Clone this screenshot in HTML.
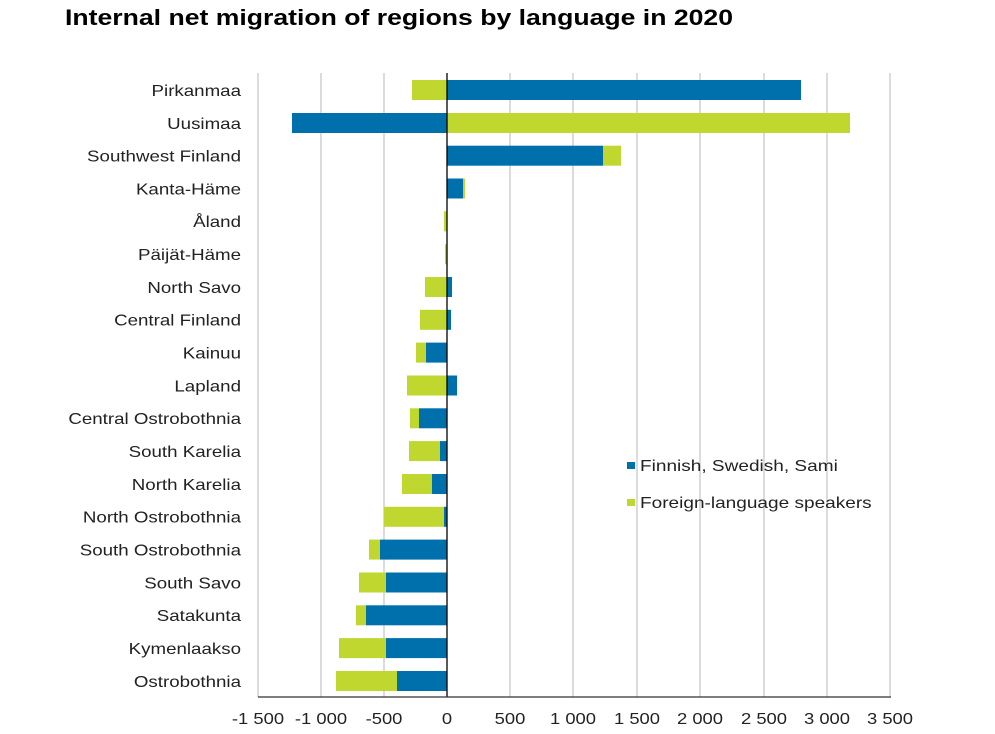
<!DOCTYPE html>
<html><head><meta charset="utf-8"><style>
html,body{margin:0;padding:0;background:#fff;}
svg{display:block;font-family:"Liberation Sans",Arial,sans-serif;}
</style></head><body>
<svg width="995" height="734" viewBox="0 0 995 734" xmlns="http://www.w3.org/2000/svg">
<rect width="995" height="734" fill="#fff"/>
<text x="65" y="25" font-size="22" font-weight="bold" fill="#000" textLength="668" lengthAdjust="spacingAndGlyphs">Internal net migration of regions by language in 2020</text>
<g stroke="#c8c8c8" stroke-width="1.3">
<line x1="258" y1="73" x2="258" y2="697"/><line x1="321" y1="73" x2="321" y2="697"/><line x1="384" y1="73" x2="384" y2="697"/>
<line x1="510" y1="73" x2="510" y2="697"/><line x1="573" y1="73" x2="573" y2="697"/><line x1="637" y1="73" x2="637" y2="697"/>
<line x1="700" y1="73" x2="700" y2="697"/><line x1="764" y1="73" x2="764" y2="697"/><line x1="827" y1="73" x2="827" y2="697"/><line x1="890" y1="73" x2="890" y2="697"/>
</g>
<g>
<rect x="447" y="80" width="354" height="20" fill="#0070ac"/><rect x="412" y="80" width="35" height="20" fill="#c0d72f"/>
<rect x="292" y="113" width="155" height="20" fill="#0070ac"/><rect x="447" y="113" width="403" height="20" fill="#c0d72f"/>
<rect x="447" y="145.7" width="156" height="20" fill="#0070ac"/><rect x="603" y="145.7" width="18" height="20" fill="#c0d72f"/>
<rect x="447" y="178.5" width="16" height="20" fill="#0070ac"/><rect x="463" y="178.5" width="2" height="20" fill="#c0d72f"/>
<rect x="444" y="211.3" width="3" height="20" fill="#c0d72f"/>
<rect x="445" y="244.2" width="2" height="20" fill="#c0d72f"/>
<rect x="447" y="277" width="5" height="20" fill="#0070ac"/><rect x="425" y="277" width="22" height="20" fill="#c0d72f"/>
<rect x="447" y="309.8" width="4" height="20" fill="#0070ac"/><rect x="420" y="309.8" width="27" height="20" fill="#c0d72f"/>
<rect x="426" y="342.6" width="21" height="20" fill="#0070ac"/><rect x="416" y="342.6" width="10" height="20" fill="#c0d72f"/>
<rect x="447" y="375.5" width="10" height="20" fill="#0070ac"/><rect x="407" y="375.5" width="40" height="20" fill="#c0d72f"/>
<rect x="419" y="408.3" width="28" height="20" fill="#0070ac"/><rect x="410" y="408.3" width="9" height="20" fill="#c0d72f"/>
<rect x="440" y="441.1" width="7" height="20" fill="#0070ac"/><rect x="409" y="441.1" width="31" height="20" fill="#c0d72f"/>
<rect x="432" y="474" width="15" height="20" fill="#0070ac"/><rect x="402" y="474" width="30" height="20" fill="#c0d72f"/>
<rect x="444" y="506.8" width="3" height="20" fill="#0070ac"/><rect x="384" y="506.8" width="60" height="20" fill="#c0d72f"/>
<rect x="380" y="539.6" width="67" height="20" fill="#0070ac"/><rect x="369" y="539.6" width="11" height="20" fill="#c0d72f"/>
<rect x="386" y="572.5" width="61" height="20" fill="#0070ac"/><rect x="359" y="572.5" width="27" height="20" fill="#c0d72f"/>
<rect x="366" y="605.3" width="81" height="20" fill="#0070ac"/><rect x="356" y="605.3" width="10" height="20" fill="#c0d72f"/>
<rect x="386" y="638.1" width="61" height="20" fill="#0070ac"/><rect x="339" y="638.1" width="47" height="20" fill="#c0d72f"/>
<rect x="397" y="671" width="50" height="20" fill="#0070ac"/><rect x="336" y="671" width="61" height="20" fill="#c0d72f"/>
</g>
<line x1="447" y1="73" x2="447" y2="697" stroke="#000" stroke-width="1.3"/>
<line x1="258" y1="697" x2="891" y2="697" stroke="#333" stroke-width="1.3"/>
<g font-size="16" fill="#222" text-anchor="end" transform="translate(241,0) scale(1.17,1)">
<text x="0" y="96">Pirkanmaa</text><text x="0" y="129">Uusimaa</text><text x="0" y="161.5">Southwest Finland</text>
<text x="0" y="194.3">Kanta-Häme</text><text x="0" y="227.1">Åland</text><text x="0" y="260">Päijät-Häme</text>
<text x="0" y="292.8">North Savo</text><text x="0" y="325.6">Central Finland</text><text x="0" y="358.4">Kainuu</text>
<text x="0" y="391.3">Lapland</text><text x="0" y="424.1">Central Ostrobothnia</text><text x="0" y="456.9">South Karelia</text>
<text x="0" y="489.8">North Karelia</text><text x="0" y="522.6">North Ostrobothnia</text><text x="0" y="555.4">South Ostrobothnia</text>
<text x="0" y="588.3">South Savo</text><text x="0" y="621.1">Satakunta</text><text x="0" y="653.9">Kymenlaakso</text><text x="0" y="686.8">Ostrobothnia</text>
</g>
<g font-size="16" fill="#222" text-anchor="middle">
<text transform="translate(258,724) scale(1.15,1)">-1 500</text><text transform="translate(321,724) scale(1.15,1)">-1 000</text><text transform="translate(384,724) scale(1.15,1)">-500</text><text transform="translate(447,724) scale(1.15,1)">0</text>
<text transform="translate(510,724) scale(1.15,1)">500</text><text transform="translate(573,724) scale(1.15,1)">1 000</text><text transform="translate(637,724) scale(1.15,1)">1 500</text><text transform="translate(700,724) scale(1.15,1)">2 000</text>
<text transform="translate(764,724) scale(1.15,1)">2 500</text><text transform="translate(827,724) scale(1.15,1)">3 000</text><text transform="translate(890,724) scale(1.15,1)">3 500</text>
</g>
<rect x="627" y="462" width="8" height="7" fill="#0070ac"/>
<rect x="627" y="499" width="8" height="7" fill="#c0d72f"/>
<g font-size="16" fill="#222" transform="translate(640,0) scale(1.19,1)">
<text x="0" y="471">Finnish, Swedish, Sami</text>
<text x="0" y="508">Foreign-language speakers</text>
</g>
</svg>
</body></html>
